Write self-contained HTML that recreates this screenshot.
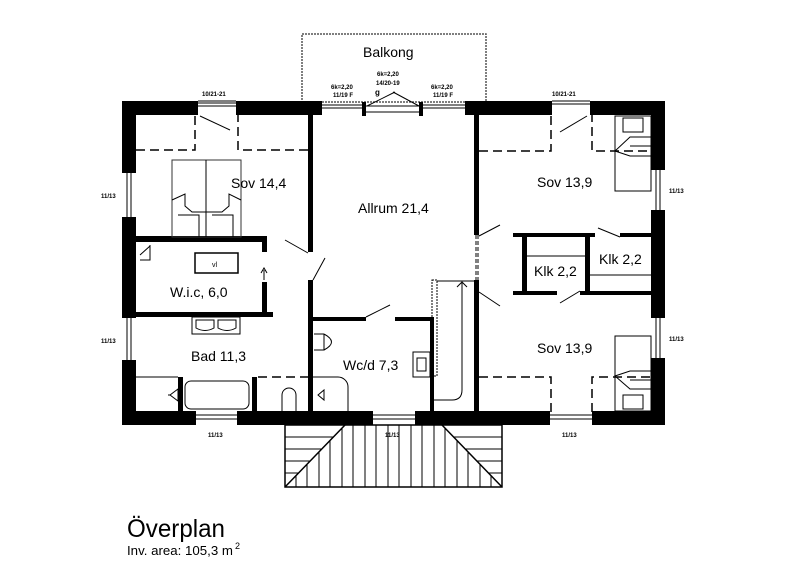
<!DOCTYPE html>
<html><head><meta charset="utf-8"><style>
html,body{margin:0;padding:0;background:#fff;}
svg{display:block;}
text{font-family:"Liberation Sans",sans-serif;fill:#000;}
</style></head><body>
<svg width="800" height="564" viewBox="0 0 800 564" xmlns="http://www.w3.org/2000/svg">
<defs>
<clipPath id="cl"><polygon points="285,425 345,425 285,487"/></clipPath>
<clipPath id="cr"><polygon points="442,425 502,425 502,487"/></clipPath>
<clipPath id="cm"><polygon points="345,425 442,425 502,487 285,487"/></clipPath>
</defs>
<g fill="none" stroke="#000" stroke-width="1">
<rect x="302" y="34" width="184" height="68" stroke="#555" stroke-dasharray="2,1" stroke-width="1.5"/>
</g>
<g fill="#000">
<rect x="122" y="101" width="76" height="14"/>
<rect x="236" y="101" width="86" height="14"/>
<rect x="465" y="101" width="87" height="14"/>
<rect x="590" y="101" width="75" height="14"/>
<rect x="122" y="101" width="14" height="72"/>
<rect x="122" y="217" width="14" height="101"/>
<rect x="122" y="360" width="14" height="65"/>
<rect x="651" y="101" width="14" height="69"/>
<rect x="651" y="210" width="14" height="108"/>
<rect x="651" y="358" width="14" height="67"/>
<rect x="122" y="411" width="74" height="14"/>
<rect x="237" y="411" width="136" height="14"/>
<rect x="415" y="411" width="135" height="14"/>
<rect x="592" y="411" width="73" height="14"/>
<rect x="362" y="102" width="4" height="14"/>
<rect x="419" y="102" width="4" height="14"/>
<rect x="308" y="113" width="5" height="139"/>
<rect x="308" y="280" width="5" height="132"/>
<rect x="474" y="113" width="5" height="122"/>
<rect x="474" y="280" width="5" height="132"/>
<rect x="136" y="236" width="130" height="6"/>
<rect x="262" y="236" width="5" height="16"/>
<rect x="262" y="282" width="5" height="31"/>
<rect x="136" y="312" width="137" height="5"/>
<rect x="313" y="317" width="53" height="4"/>
<rect x="395" y="317" width="37" height="4"/>
<rect x="430" y="317" width="4" height="95"/>
<rect x="513" y="233" width="82" height="4"/>
<rect x="620" y="233" width="31" height="4"/>
<rect x="522" y="233" width="5" height="60"/>
<rect x="585" y="233" width="5" height="60"/>
<rect x="513" y="291" width="44" height="4"/>
<rect x="580" y="291" width="71" height="4"/>
<rect x="178" y="377" width="5" height="35"/>
<rect x="252" y="377" width="5" height="35"/>
</g>
<g fill="none" stroke="#000" stroke-width="1">
<path d="M198,103 H236 M198,106 H236 M198,101 H236"/>
<path d="M322,105 H362 M322,108 H362 M423,105 H465 M423,108 H465"/>
<path d="M366,112 H419 M366,106 H419"/>
<path d="M552,101 H590 M552,104 H590"/>
<path d="M127,173 V217 M131,173 V217 M127,318 V360 M131,318 V360"/>
<path d="M656,170 V210 M660,170 V210 M656,318 V358 M660,318 V358"/>
<path d="M196,415 H237 M196,419 H237 M373,415 H415 M373,419 H415 M550,415 H592 M550,419 H592"/>
<path d="M200,116 L230,130 M367,106 L395,92 M419,106 L393,92"/>
<path d="M587,116 L560,132 M313,280 L325,258 M308,253 L285,240 M366,317 L390,305"/>
<path d="M479,236 L500,225 M620,237 L598,228 M479,292 L500,306 M580,291 L560,303"/>
<path d="M476,235 V280 M478,235 V280" stroke-dasharray="4,2"/>
<path d="M136,377 H178"/>
<g stroke-dasharray="9,5" stroke-width="1.5">
<path d="M136,150 H195 V113 M238,113 V150 H308"/>
<path d="M479,151 H551 V113 M592,113 V151 H651"/>
<path d="M479,377 H551 V412 M592,412 V377 H651"/>
<path d="M258,377 H308"/>
</g>
<rect x="172" y="160" width="69" height="77" stroke="#333"/>
<path d="M206,160 V237 M172,200 L185,194 V206 L192,212 H222 L229,206 V194 L241,200 M178,215 H199 V237 M212,215 H233 V237"/>
<rect x="195" y="253" width="43" height="20" stroke-width="1.5"/>
<path d="M150,245 V260 H140 M140,255 L150,246"/>
<path d="M264,270 V280 M261,273 L264,268 L267,273"/>
<rect x="192" y="317" width="48" height="17"/>
<path d="M196,320 h18 v8 q-9,5 -18,0 z M218,320 h18 v8 q-9,5 -18,0 z"/>
<rect x="185" y="381" width="64" height="28" rx="6"/>
<path d="M170,395 L178,389 V401 Z M168,395 H170"/>
<path d="M282,412 V395 a7,7 0 0 1 14,0 V412 Z"/>
<path d="M314,334 h10 v16 h-10 M324,334 q15,8 0,16"/>
<path d="M313,377 h25 a10,10 0 0 1 10,10 v25"/>
<path d="M318,395 L324,390 V400 Z"/>
<rect x="413" y="352" width="17" height="25"/>
<rect x="417" y="358" width="9" height="13"/>
<rect x="432" y="280" width="5" height="96" stroke-dasharray="2,1"/>
<path d="M437,281 H474 M462,283 V390 q0,10 -10,10 H434 M457,287 L462,282 L467,287"/>
<path d="M527,256 H585 M590,275 H651"/>
<rect x="615" y="116" width="36" height="75"/>
<rect x="623" y="118" width="20" height="14"/>
<path d="M651,137 H630 L615,151 L630,156 H651 M630,146 H651"/>
<rect x="615" y="336" width="36" height="75"/>
<rect x="623" y="395" width="20" height="14"/>
<path d="M651,389 H630 L615,376 L630,371 H651 M630,380 H651"/>
<rect x="285" y="425" width="217" height="62" stroke-width="1.5"/>
<path d="M285,487 L345,425 M442,425 L502,487" stroke-width="1.5"/>
<g clip-path="url(#cl)"><path d="M285,437 H350 M285,449 H350 M285,461 H350 M285,473 H350"/></g>
<g clip-path="url(#cr)"><path d="M440,437 H502 M440,449 H502 M440,461 H502 M440,473 H502"/></g>
<g clip-path="url(#cm)"><path d="M296,425V487M307,425V487M319,425V487M330,425V487M342,425V487M353,425V487M365,425V487M376,425V487M388,425V487M399,425V487M411,425V487M422,425V487M434,425V487M445,425V487M457,425V487M468,425V487M480,425V487M491,425V487"/></g>
</g>
<g font-size="14">
<text x="363" y="57">Balkong</text>
<text x="231" y="188">Sov 14,4</text>
<text x="358" y="213">Allrum 21,4</text>
<text x="537" y="187">Sov 13,9</text>
<text x="534" y="276">Klk 2,2</text>
<text x="599" y="264">Klk 2,2</text>
<text x="170" y="297">W.i.c, 6,0</text>
<text x="191" y="361">Bad 11,3</text>
<text x="343" y="370">Wc/d 7,3</text>
<text x="537" y="353">Sov 13,9</text>
</g>
<g font-size="6" font-weight="bold">
<text x="202" y="96">10/21-21</text>
<text x="552" y="96">10/21-21</text>
<text x="331" y="89">6k=2,20</text><text x="333" y="97">11/19 F</text>
<text x="377" y="76">6k=2,20</text><text x="376" y="85">14/20-19</text>
<text x="375" y="95" font-size="8">g</text>
<text x="431" y="89">6k=2,20</text><text x="433" y="97">11/19 F</text>
<text x="101" y="198">11/13</text>
<text x="101" y="343">11/13</text>
<text x="669" y="193">11/13</text>
<text x="669" y="341">11/13</text>
<text x="208" y="437">11/13</text>
<text x="385" y="437">11/13</text>
<text x="562" y="437">11/13</text>
<text x="212" y="267" font-weight="normal" font-size="7">vl</text>
</g>
<text x="127" y="537" font-size="25" textLength="98" lengthAdjust="spacingAndGlyphs">Överplan</text>
<text x="127" y="555" font-size="13" textLength="106" lengthAdjust="spacingAndGlyphs">Inv. area: 105,3 m</text>
<text x="235" y="549" font-size="9">2</text>
</svg>
</body></html>
